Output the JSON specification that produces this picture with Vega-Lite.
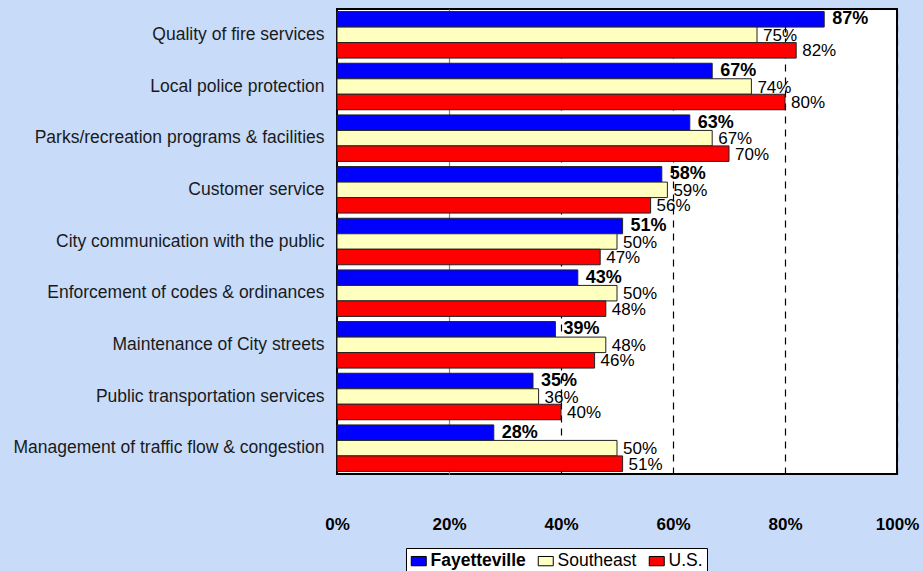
{
  "$schema": "https://vega.github.io/schema/vega-lite/v6.json",
  "width": 560,
  "height": 465,
  "autosize": "none",
  "padding": {"left": 337, "top": 9, "right": 26, "bottom": 97},
  "background": "#C8DCFA",
  "config": {
    "font": "Liberation Sans",
    "view": {"stroke": "black", "strokeWidth": 2, "fill": "white"}
  },
  "data": {
    "values": [
      {"category": "Quality of fire services", "series": "Fayetteville", "value": 0.87},
      {"category": "Quality of fire services", "series": "Southeast", "value": 0.75},
      {"category": "Quality of fire services", "series": "U.S.", "value": 0.82},
      {"category": "Local police protection", "series": "Fayetteville", "value": 0.67},
      {"category": "Local police protection", "series": "Southeast", "value": 0.74},
      {"category": "Local police protection", "series": "U.S.", "value": 0.80},
      {"category": "Parks/recreation programs & facilities", "series": "Fayetteville", "value": 0.63},
      {"category": "Parks/recreation programs & facilities", "series": "Southeast", "value": 0.67},
      {"category": "Parks/recreation programs & facilities", "series": "U.S.", "value": 0.70},
      {"category": "Customer service ", "series": "Fayetteville", "value": 0.58},
      {"category": "Customer service ", "series": "Southeast", "value": 0.59},
      {"category": "Customer service ", "series": "U.S.", "value": 0.56},
      {"category": "City communication with the public", "series": "Fayetteville", "value": 0.51},
      {"category": "City communication with the public", "series": "Southeast", "value": 0.50},
      {"category": "City communication with the public", "series": "U.S.", "value": 0.47},
      {"category": "Enforcement of codes & ordinances", "series": "Fayetteville", "value": 0.43},
      {"category": "Enforcement of codes & ordinances", "series": "Southeast", "value": 0.50},
      {"category": "Enforcement of codes & ordinances", "series": "U.S.", "value": 0.48},
      {"category": "Maintenance of City streets", "series": "Fayetteville", "value": 0.39},
      {"category": "Maintenance of City streets", "series": "Southeast", "value": 0.48},
      {"category": "Maintenance of City streets", "series": "U.S.", "value": 0.46},
      {"category": "Public transportation services", "series": "Fayetteville", "value": 0.35},
      {"category": "Public transportation services", "series": "Southeast", "value": 0.36},
      {"category": "Public transportation services", "series": "U.S.", "value": 0.40},
      {"category": "Management of traffic flow & congestion", "series": "Fayetteville", "value": 0.28},
      {"category": "Management of traffic flow & congestion", "series": "Southeast", "value": 0.50},
      {"category": "Management of traffic flow & congestion", "series": "U.S.", "value": 0.51}
    ]
  },
  "encoding": {
    "y": {
      "field": "category",
      "type": "nominal",
      "sort": null,
      "scale": {"paddingInner": 0.1, "paddingOuter": 0.05},
      "axis": {
        "title": null,
        "ticks": false,
        "domain": false,
        "labelFontSize": 17.5,
        "labelColor": "#1a1a1a",
        "labelPadding": 13,
        "labelLimit": 400
      }
    },
    "yOffset": {
      "field": "series",
      "type": "nominal",
      "sort": ["Fayetteville", "Southeast", "U.S."],
      "scale": {"paddingInner": 0, "paddingOuter": 0}
    },
    "x": {
      "field": "value",
      "type": "quantitative",
      "scale": {"domain": [0, 1], "nice": false},
      "axis": {
        "title": null,
        "values": [0, 0.2, 0.4, 0.6, 0.8, 1],
        "format": ".0%",
        "ticks": false,
        "domain": false,
        "labelFontSize": 17,
        "labelFontWeight": "bold",
        "labelColor": "black",
        "labelPadding": 42,
        "labelFlush": false,
        "grid": true,
        "gridColor": {"condition": {"test": "datum.value == 0.2", "value": "#888888"}, "value": "black"},
        "gridDash": {"condition": {"test": "datum.value == 0.2", "value": []}, "value": [7, 6]},
        "gridWidth": 1.2
      }
    }
  },
  "layer": [
    {
      "mark": {"type": "bar", "stroke": "#222222", "strokeWidth": 1},
      "encoding": {
        "color": {
          "field": "series",
          "type": "nominal",
          "scale": {"domain": ["Fayetteville", "Southeast", "U.S."], "range": ["#0000FF", "#FFFFC0", "#FF0000"]},
          "legend": {
            "title": null,
            "orient": "none",
            "legendX": 69,
            "legendY": 539,
            "direction": "horizontal",
            "fillColor": "white",
            "strokeColor": "black",
            "padding": 4,
            "symbolType": "M-1,-0.62H1V0.62H-1Z",
            "symbolSize": 225,
            "symbolStrokeColor": "black",
            "symbolStrokeWidth": 1,
            "symbolOpacity": 1,
            "labelFontSize": 17.5,
            "labelColor": "black",
            "labelOffset": 3,
            "columnPadding": 10,
            "labelExpr": "datum.label === 'U.S.' ? 'U.S.\u00a0\u00a0\u00a0' : datum.label",
            "encode": {
              "labels": {"update": {"fontWeight": {"signal": "datum.label === 'Fayetteville' ? 'bold' : 'normal'"}}}
            }
          }
        }
      }
    },
    {
      "transform": [{"filter": "datum.series === 'Fayetteville'"}],
      "mark": {"type": "text", "align": "left", "baseline": "middle", "dx": 8, "dy": 0, "fontSize": 18, "fontWeight": "bold", "color": "black"},
      "encoding": {"text": {"field": "value", "format": ".0%"}}
    },
    {
      "transform": [{"filter": "datum.series !== 'Fayetteville'"}],
      "mark": {"type": "text", "align": "left", "baseline": "middle", "dx": 6, "dy": 1, "fontSize": 17, "color": "black"},
      "encoding": {"text": {"field": "value", "format": ".0%"}}
    }
  ]
}
